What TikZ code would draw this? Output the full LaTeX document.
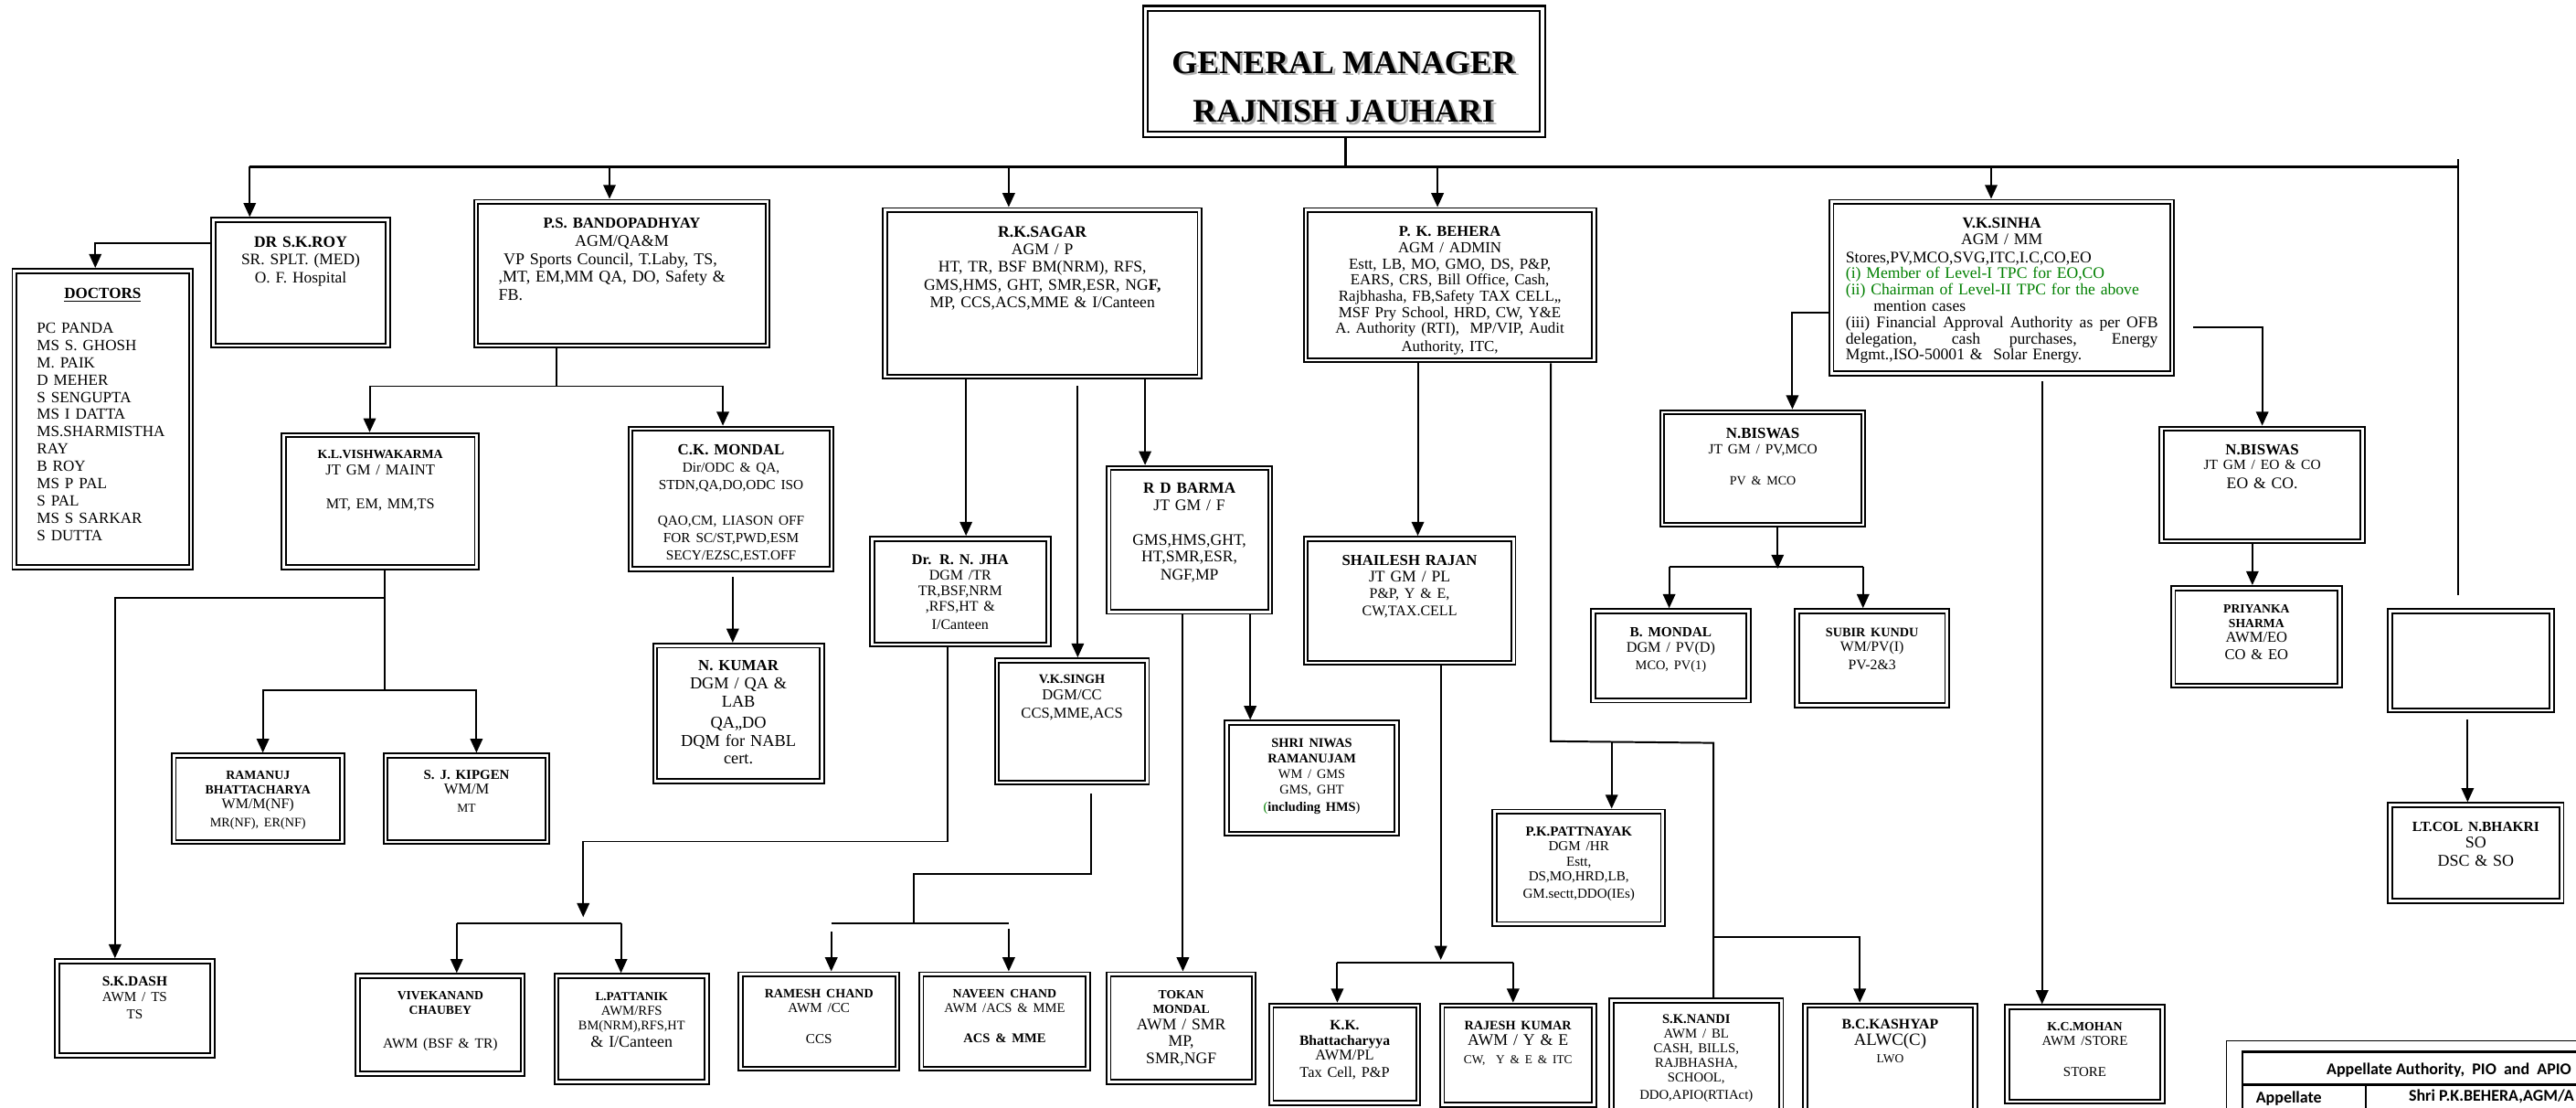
\documentclass[tikz,border=0pt]{standalone}
\usepackage{fontspec}
\setmainfont{Liberation Serif}
\newfontfamily\cfont{Carlito}
\usetikzlibrary{arrows.meta,calc}
\definecolor{tgreen}{RGB}{0,128,0}
\newcommand\fs[2]{\fontsize{#1}{#2}\selectfont}
\tikzset{
 obox/.style={draw, rectangle, line width=1.05pt, double, double distance=1.5pt, inner sep=0pt, outer sep=1.8pt},
 otext/.style={inner sep=0pt, outer sep=0pt, align=center, font=\fs{9.8}{10.8}},
 conn/.style={line width=1.1pt},
 arr/.style={conn, -{Triangle[length=8.5pt,width=7.5pt]}},
 tabtext/.style={inner sep=0pt, font=\cfont\bfseries\fontsize{10}{12}\selectfont},
}
% #1 text offset, #2 name, #3 x1, #4 y1, #5 x2, #6 y2, #7 content
\newcommand\orgbox[7][11.5]{%
  \pgfmathsetmacro\obw{#5-#3}%
  \pgfmathsetmacro\obh{#6-#4}%
  \pgfmathsetmacro\otw{#5-#3-8}%
  \node[obox, minimum width=\obw pt-3.6pt, minimum height=\obh pt-3.6pt] (#2) at ({(#3+#5)/2},{(#4+#6)/2}) {};
  \node[otext, text width=\otw pt, anchor=north] (#2-t) at ([yshift=-#1pt]#2.north) {#7};%
}
\newcommand\jline[1]{\leavevmode\hbox to 190pt{\spaceskip=3pt plus 1fil\relax #1}}
\begin{document}
\begin{tikzpicture}[x=1pt,y=-1pt]
\useasboundingbox (0,0) rectangle (1568,674);
\fill[white] (0,0) rectangle (1568,674);
\clip (0,0) rectangle (1568,674);

% ---------- General Manager ----------
\node[obox, line width=1.2pt, double distance=2pt, outer sep=2.2pt, minimum width=241.6pt, minimum height=76.6pt] (gm) at (818,43.5) {};
\node[font=\fs{20}{30}\bfseries, text=gray!60, align=center, inner sep=0pt] (gm-s) at (819.6,54.4) {GENERAL MANAGER\\RAJNISH JAUHARI};
\node[font=\fs{20}{30}\bfseries, align=center, inner sep=0pt] (gm-t) at (818,53) {GENERAL MANAGER\\RAJNISH JAUHARI};

% ---------- boxes ----------
\orgbox[12.2]{roy}{128}{132}{238}{212}{\fs{9.7}{10.5}\textbf{DR S.K.ROY}\\SR. SPLT. (MED)\\O. F. Hospital}
\orgbox[12.2]{doctors}{7}{163}{118}{347}{\fs{9.5}{10.5}\textbf{\underline{DOCTORS}}\\[10.5pt]\parbox[t]{80pt}{\raggedright PC PANDA\\MS S. GHOSH\\M. PAIK\\D MEHER\\S SENGUPTA\\MS I DATTA\\MS.SHARMISTHA\\RAY\\B ROY\\MS P PAL\\S PAL\\MS S SARKAR\\S DUTTA}}
\orgbox[11.8]{psb}{288}{121}{469}{212}{\fs{10}{11}{\fs{9.3}{11}\textbf{P.S. BANDOPADHYAY}}\\AGM/QA\&M\\\parbox[t]{150pt}{\raggedright\hspace*{3pt}VP Sports Council, T.Laby, TS,\\,MT, EM,MM QA, DO, Safety \&\\FB.}}
\orgbox[11.6]{rks}{537}{126}{732}{231}{\fs{9.8}{10.8}\textbf{R.K.SAGAR}\\AGM / P\\HT, TR, BSF BM(NRM), RFS,\\GMS,HMS, GHT, SMR,ESR, NG\textbf{F,}\\MP, CCS,ACS,MME \& I/Canteen}
\orgbox[11.8]{pkb}{793}{126}{972}{221}{\fs{9.4}{9.85}{\fs{9.2}{9.85}\textbf{P. K. BEHERA}}\\AGM / ADMIN\\Estt, LB, MO, GMO, DS, P\&P,\\EARS, CRS, Bill Office, Cash,\\Rajbhasha, FB,Safety TAX CELL,,\\MSF Pry School, HRD, CW, Y\&E\\A. Authority (RTI),\ \ MP/VIP, Audit\\Authority, ITC,}
\orgbox[11.7]{vks}{1113}{121}{1324}{229}{\fs{9.8}{9.9}{\fs{9.5}{9.9}\textbf{V.K.SINHA}}\\AGM / MM\\\parbox[t]{190pt}{\raggedright Stores,PV,MCO,SVG,ITC,I.C,CO,EO\\\textcolor{tgreen}{(i) Member of Level-I TPC for EO,CO}\\\textcolor{tgreen}{(ii) Chairman of Level-II TPC for the above}\\\hspace*{17pt}mention cases\\\jline{(iii) Financial Approval Authority as per OFB}\\\jline{delegation, cash purchases, Energy}\\Mgmt.,ISO-50001 \&\ \ Solar Energy.}}

\orgbox[10.6]{klv}{171}{263}{292}{347}{\fs{9}{10}{\fs{7.7}{10}\textbf{K.L.VISHWAKARMA}}\\{\fs{9.2}{10}JT GM / MAINT}\\[10pt]MT, EM, MM,TS}
\orgbox[11.4]{ckm}{382}{259}{508}{348}{\fs{8.5}{10.6}{\fs{9.4}{10.6}\textbf{C.K. MONDAL}}\\Dir/ODC \& QA,\\STDN,QA,DO,ODC ISO\\[11pt]QAO,CM, LIASON OFF\\FOR SC/ST,PWD,ESM\\SECY/EZSC,EST.OFF}
\orgbox[10.9]{nku}{397}{391}{502}{477}{\fs{10.2}{11}{\fs{9.4}{11}\textbf{N. KUMAR}}\\DGM / QA \&\\LAB\\[2pt]QA,,DO\\DQM for NABL\\cert.}
\orgbox[11.6]{rnj}{529}{326}{640}{394}{\fs{8.9}{9.5}{\fs{9}{9.5}\textbf{Dr. R. N. JHA}}\\DGM /TR\\TR,BSF,NRM\\,RFS,HT \&\\I/Canteen}
\orgbox[10.8]{rdb}{673}{283}{775}{374}{\fs{9.8}{10.5}{\fs{9.5}{10.5}\textbf{R D BARMA}}\\JT GM / F\\[10.5pt]GMS,HMS,GHT,\\HT,SMR,ESR,\\NGF,MP}
\orgbox[10.8]{vksg}{605}{400}{700}{478}{\fs{9.2}{10}{\fs{7.9}{10}\textbf{V.K.SINGH}}\\DGM/CC\\CCS,MME,ACS}
\orgbox[11.3]{sra}{745}{438}{852}{509}{\fs{8}{9.5}\textbf{SHRI NIWAS\\RAMANUJAM}\\WM / GMS\\GMS, GHT\\\textcolor{tgreen}{(}\textbf{including HMS})}

\orgbox[11.4]{skd}{33}{583}{131}{644}{\fs{8.4}{9}{\fs{8.6}{9}\textbf{S.K.DASH}}\\AWM / TS\\TS}
\orgbox[10.9]{rbh}{104}{458}{210}{514}{\fs{8.9}{9.1}{\fs{7.7}{9.1}\textbf{RAMANUJ\\BHATTACHARYA}}\\WM/M(NF)\\{\fs{7.9}{9.1}MR(NF), ER(NF)}}
\orgbox[10.7]{sjk}{233}{458}{335}{514}{\fs{9.2}{9.1}{\fs{8.3}{9.1}\textbf{S. J. KIPGEN}}\\WM/M\\{\fs{7.5}{9.1}MT}}
\orgbox[11.4]{vch}{216}{592}{320}{655}{\fs{8.6}{8.5}{\fs{7.6}{8.5}\textbf{VIVEKANAND\\CHAUBEY}}\\[10pt]AWM (BSF \& TR)}
\orgbox[11.7]{lpt}{337}{592}{432}{660}{\fs{8.2}{9}{\fs{7.4}{9}\textbf{L.PATTANIK}}\\AWM/RFS\\{\fs{8}{9}BM(NRM),RFS,HT}\\{\fs{10}{9}\& I/Canteen}}
\orgbox[10.8]{rmc}{449}{591}{548}{652}{\fs{8.4}{8.9}{\fs{7.8}{8.9}\textbf{RAMESH CHAND}}\\AWM /CC\\[8pt]CCS}
\orgbox[10.8]{nvc}{559}{591}{664}{652}{\fs{8.1}{8.9}{\fs{7.7}{8.9}\textbf{NAVEEN CHAND}}\\AWM /ACS \& MME\\[8pt]\textbf{ACS \& MME}}
\orgbox[11.8]{tkm}{673}{591}{765}{660}{\fs{9.8}{10}{\fs{7.6}{10}\textbf{TOKAN\\[-1.3pt]MONDAL}}\\AWM / SMR\\MP,\\SMR,NGF}

\orgbox[11.9]{shr}{793}{326}{923}{405}{\fs{8.9}{10}{\fs{9.3}{10}\textbf{SHAILESH RAJAN}}\\{\fs{9.8}{10}JT GM / PL}\\P\&P, Y \& E,\\CW,TAX.CELL}
\orgbox[11.3]{pkp}{908}{492}{1014}{564}{\fs{8.4}{9}{\fs{8.3}{9}\textbf{P.K.PATTNAYAK}}\\DGM /HR\\Estt,\\DS,MO,HRD,LB,\\GM.sectt,DDO(IEs)}
\orgbox[11]{kkb}{772}{610}{865}{673}{\fs{9.1}{9.1}{\fs{8.7}{9.1}\textbf{K.K.\\Bhattacharyya}}\\AWM/PL\\Tax Cell, P\&P}
\orgbox[11.2]{rjk}{876}{610}{972}{674}{\fs{7.4}{9.8}{\fs{7.9}{9.8}\textbf{RAJESH KUMAR}}\\{\fs{9.9}{9.8}AWM / Y \& E}\\CW,\ \ Y \& E \& ITC}
\orgbox[10.5]{skn}{979}{607}{1086}{692}{\fs{8.2}{8.8}{\fs{8.1}{8.8}\textbf{S.K.NANDI}}\\AWM / BL\\CASH, BILLS,\\RAJBHASHA,\\SCHOOL,\\DDO,APIO(RTIAct)}
\orgbox[10.4]{bck}{1097}{610}{1204}{692}{\fs{7.5}{9.8}{\fs{8.8}{9.8}\textbf{B.C.KASHYAP}}\\{\fs{10.5}{9.8}ALWC(C)}\\LWO}
\orgbox[11.2]{kcm}{1220}{611}{1318}{672}{\fs{8.3}{9}{\fs{7.7}{9}\textbf{K.C.MOHAN}}\\AWM /STORE\\[8pt]STORE}

\orgbox[11.5]{nbp}{1010}{249}{1136}{321}{\fs{8.6}{9.3}{\fs{9.4}{9.3}\textbf{N.BISWAS}}\\JT GM / PV,MCO\\[8.5pt]{\fs{7.8}{9.3}PV \& MCO}}
\orgbox[11.8]{bmd}{968}{370}{1066}{428}{\fs{8.6}{9.3}{\fs{8.5}{9.3}\textbf{B. MONDAL}}\\{\fs{9}{9.3}DGM / PV(D)}\\{\fs{8}{9.3}MCO, PV(1)}}
\orgbox[12]{sbk}{1092}{370}{1187}{431}{\fs{8.8}{9.3}{\fs{7.9}{9.3}\textbf{SUBIR KUNDU}}\\WM/PV(I)\\PV-2\&3}
\orgbox[11.3]{nbe}{1314}{259}{1440}{331}{\fs{9.8}{10}{\fs{9.4}{10}\textbf{N.BISWAS}}\\[-0.8pt]{\fs{8.6}{10}JT GM / EO \& CO}\\[0.6pt]EO \& CO.}
\orgbox[11.7]{pys}{1321}{356}{1426}{419}{\fs{9.2}{9}{\fs{7.6}{9}\textbf{PRIYANKA\\SHARMA}}\\AWM/EO\\CO \& EO}
\orgbox{emp}{1453}{370}{1555}{434}{}
\orgbox[12.1]{nbk}{1453}{488}{1561}{550}{\fs{10}{10.2}{\fs{8.6}{10.2}\textbf{LT.COL N.BHAKRI}}\\SO\\DSC \& SO}

% ---------- main bus ----------
\coordinate (bus0) at (152,101.5);
\coordinate (bus1) at (1496,101.5);
\coordinate (gmj) at (819,101.5);
\draw[conn, line width=1.3pt] (gm.south -| gmj) -- (gmj);
\draw[conn, line width=1.3pt] (bus0) -- (bus1);
\coordinate (rv0) at (1496,97);
\coordinate (rv1) at (1496,362);
\draw[conn] (rv0) -- (rv1);
\coordinate (b2) at (371,101.5);
\coordinate (b3) at (614,101.5);
\coordinate (b4) at (875,101.5);
\coordinate (b5) at (1212,101.5);
\draw[arr] (bus0) -- (bus0 |- roy.north);
\draw[arr] (b2) -- (b2 |- psb.north);
\draw[arr] (b3) -- (b3 |- rks.north);
\draw[arr] (b4) -- (b4 |- pkb.north);
\draw[arr] (b5) -- (b5 |- vks.north);
\coordinate (e1) at (1502,438);
\draw[arr] (e1) -- (e1 |- nbk.north);

% ---------- DR ROY ----------
\coordinate (j1) at (58,148);
\draw[arr] (roy.west |- j1) -- (j1) -- (j1 |- doctors.north);

% ---------- P.S. BANDOPADHYAY ----------
\coordinate (j2) at (339,235);
\coordinate (j2a) at (225,235);
\coordinate (j2b) at (440,235);
\draw[conn] (psb.south -| j2) -- (j2);
\draw[conn] (j2a) -- (j2b);
\draw[arr] (j2a) -- (j2a |- klv.north);
\draw[arr] (j2b) -- (j2b |- ckm.north);
\coordinate (j3) at (446,351);
\draw[arr] (j3) -- (j3 |- nku.north);

% ---------- K.L.VISHWAKARMA ----------
\coordinate (j4) at (234,364);
\coordinate (j4l) at (70,364);
\coordinate (j5) at (234,420);
\coordinate (j5l) at (160,420);
\coordinate (j5r) at (290,420);
\draw[conn] (klv.south -| j4) -- (j5);
\draw[arr] (j4) -- (j4l) -- (j4l |- skd.north);
\draw[arr] (j5) -- (j5l) -- (j5l |- rbh.north);
\draw[arr] (j5) -- (j5r) -- (j5r |- sjk.north);

% ---------- R.K.SAGAR ----------
\coordinate (k1) at (588,231);
\coordinate (k2) at (656,235);
\coordinate (k3) at (697,231);
\draw[arr] (rks.south -| k1) -- (k1 |- rnj.north);
\draw[arr] (k2) -- (k2 |- vksg.north);
\draw[arr] (rks.south -| k3) -- (k3 |- rdb.north);

% Dr. R.N.JHA
\coordinate (m1) at (577,512);
\coordinate (m2) at (355,512);
\coordinate (m3) at (355,558);
\coordinate (m4l) at (278,562);
\coordinate (m4r) at (378,562);
\draw[arr] (rnj.south -| m1) -- (m1) -- (m2) -- (m3);
\draw[conn] (m4l) -- (m4r);
\draw[arr] (m4l) -- (m4l |- vch.north);
\draw[arr] (m4r) -- (m4r |- lpt.north);

% V.K.SINGH
\coordinate (n1) at (664,483);
\coordinate (n2) at (664,532);
\coordinate (n3) at (556,532);
\coordinate (n4) at (556,562);
\coordinate (n5l) at (506,562);
\coordinate (n5r) at (614,562);
\coordinate (n6l) at (506,567);
\coordinate (n6r) at (614,565);
\draw[conn] (n1) -- (n2) -- (n3) -- (n4);
\draw[conn] (n5l) -- (n5r);
\draw[arr] (n6l) -- (n6l |- rmc.north);
\draw[arr] (n6r) -- (n6r |- nvc.north);

% R D BARMA
\coordinate (p1) at (720,374);
\coordinate (p2) at (761,374);
\draw[arr] (rdb.south -| p1) -- (p1 |- tkm.north);
\draw[arr] (rdb.south -| p2) -- (p2 |- sra.north);

% ---------- P.K.BEHERA ----------
\coordinate (q1) at (863,221);
\draw[arr] (pkb.south -| q1) -- (q1 |- shr.north);
\coordinate (q2) at (944,451);
\coordinate (q3) at (981,451.5);
\coordinate (q4) at (1043,452);
\coordinate (q5) at (1043,570);
\coordinate (q6) at (1132,570);
\draw[conn] (pkb.south -| q2) -- (q2) -- (q4) -- (q4 |- skn.north);
\draw[arr] (q3) -- (q3 |- pkp.north);
\draw[arr] (q5) -- (q6) -- (q6 |- bck.north);

% SHAILESH RAJAN
\coordinate (r1) at (877,584);
\coordinate (r2l) at (814,585.5);
\coordinate (r2r) at (921,585.5);
\draw[arr] (shr.south -| r1) -- (r1);
\draw[conn] (r2l) -- (r2r);
\draw[arr] (r2l) -- (r2l |- kkb.north);
\draw[arr] (r2r) -- (r2r |- rjk.north);

% ---------- V.K.SINHA ----------
\coordinate (s1) at (1091,190);
\draw[arr] (vks.west |- s1) -- (s1) -- (s1 |- nbp.north);
\coordinate (s2a) at (1335,199);
\coordinate (s2) at (1377,199);
\draw[arr] (s2a) -- (s2) -- (s2 |- nbe.north);
\coordinate (s3) at (1243,232);
\draw[arr] (s3) -- (s3 |- kcm.north);

% N.BISWAS (PV)
\coordinate (u1) at (1082,346);
\coordinate (u2l) at (1016,345);
\coordinate (u2r) at (1134,345);
\draw[arr] (nbp.south -| u1) -- (u1);
\draw[conn] (u2l) -- (u2r);
\draw[arr] (u2l) -- (u2l |- bmd.north);
\draw[arr] (u2r) -- (u2r |- sbk.north);

% N.BISWAS (EO)
\coordinate (v1) at (1371,331);
\draw[arr] (nbe.south -| v1) -- (v1 |- pys.north);

% ---------- table (bottom right) ----------
\draw[line width=0.5pt] (1355,633) rectangle (1590,700);
\draw[line width=1.3pt] (1365,640) rectangle (1590,700);
\draw[line width=1.3pt] (1365,660) -- (1590,660);
\draw[line width=1.3pt] (1440,660) -- (1440,700);
\node[tabtext, anchor=west] (tab-h) at (1416,651) {Appellate Authority,\ \ PIO\ \ and\ \ APIO};
\node[tabtext, anchor=base west] (tab-a) at (1373,671.3) {Appellate};
\node[tabtext, anchor=west] (tab-s) at (1466,667) {Shri P.K.BEHERA,AGM/A};
\end{tikzpicture}
\end{document}
